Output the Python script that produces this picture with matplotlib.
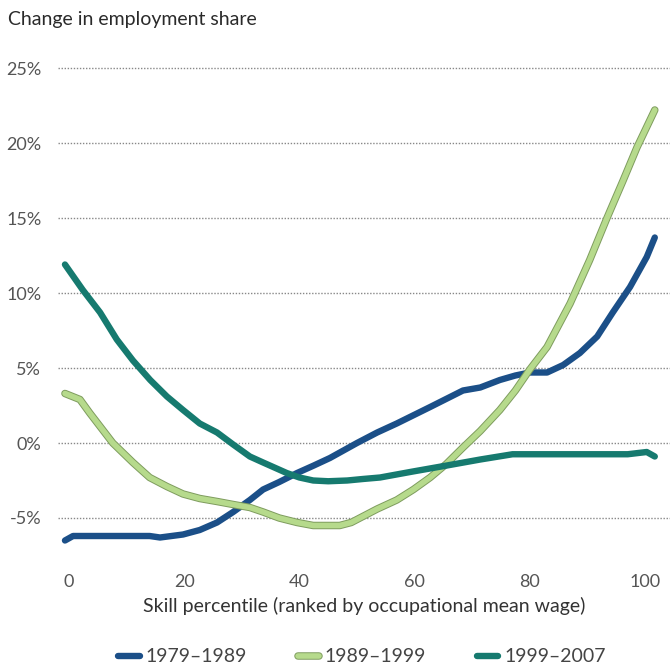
import matplotlib
matplotlib.use("Agg")
import matplotlib.pyplot as plt
import matplotlib.patheffects as pe

plt.rcParams['font.family'] = ['Lato', 'DejaVu Sans']

series_labels = ["1979\u20131989", "1989\u20131999", "1999\u20132007"]

blue_x = [-0.7, 0.7, 5, 10, 14, 15.8, 19.8, 22.7, 25.7, 28.5, 31.4, 33.7, 36.5, 39.6, 42.5, 45.3, 50, 53.5, 56.9, 62.7, 68.4, 71.4, 74.8, 77.5, 80, 83, 85.8, 88.7, 91.7, 94.4, 97.4, 100.3, 101.7]
blue_y = [-6.5, -6.2, -6.2, -6.2, -6.2, -6.3, -6.1, -5.8, -5.3, -4.6, -3.8, -3.1, -2.6, -2.0, -1.5, -1.0, 0.0, 0.7, 1.3, 2.4, 3.5, 3.7, 4.2, 4.5, 4.7, 4.7, 5.2, 6.0, 7.1, 8.7, 10.4, 12.4, 13.7]

green_x = [-0.7, 1.9, 3.6, 5.4, 7.6, 11.1, 14, 17, 19.8, 22.7, 25.7, 28.5, 31.4, 33.7, 36.5, 39.6, 42.4, 45, 47, 49, 51, 53.5, 56.9, 59.8, 62.7, 65.5, 68.4, 71.4, 74.8, 77.5, 80, 83, 87, 90.4, 93.4, 96.2, 98.6, 101.7]
green_y = [3.3, 2.9, 2.0, 1.1, 0.0, -1.3, -2.3, -2.9, -3.4, -3.7, -3.9, -4.1, -4.3, -4.6, -5.0, -5.3, -5.5, -5.5, -5.5, -5.3, -4.9, -4.4, -3.8, -3.1, -2.3, -1.4, -0.3, 0.8, 2.2, 3.5, 4.9, 6.4, 9.3, 12.2, 15.0, 17.5, 19.7, 22.2]

teal_x = [-0.7, 2.4, 5.4, 8.3, 11.1, 14.1, 17, 19.8, 22.7, 25.7, 28.5, 31.4, 33.7, 37.8, 40, 42.4, 45, 48.3, 51, 54, 59.7, 65.6, 71.4, 77, 85, 92, 97, 100.3, 101.7]
teal_y = [11.9, 10.2, 8.7, 6.9, 5.5, 4.2, 3.1, 2.2, 1.3, 0.7, -0.1, -0.9, -1.3, -2.0, -2.3, -2.5, -2.55, -2.5, -2.4, -2.3, -1.9, -1.5, -1.1, -0.75, -0.75, -0.75, -0.75, -0.6, -0.9]

x_ticks = [0, 20, 40, 60, 80, 100]
y_ticks = [-5, 0, 5, 10, 15, 20, 25]
y_ticklabels = ["-5%", "0%", "5%", "10%", "15%", "20%", "25%"]

W, H = 670, 666
fig = plt.figure(figsize=(W / 100, H / 100), dpi=100)
left, right, top, bottom = 58, 670, 60, 545
ax = fig.add_axes([left / W, 1 - bottom / H, (right - left) / W, (bottom - top) / H])

x0px, pxu = 69, 5.76
ax.set_xlim((left - x0px) / pxu, (right - x0px) / pxu)
ax.set_ylim(-(bottom - 443) / 15, (443 - top) / 15)

blue_c = "#1b4f88"
green_c = "#b6da8c"
green_edge = "#7e9c5e"
teal_c = "#167a6f"

ax.plot(blue_x, blue_y, color=blue_c, lw=4.6, solid_capstyle='round', solid_joinstyle='round', label=series_labels[0], zorder=3)
ax.plot(green_x, green_y, color=green_c, lw=4.0, solid_capstyle='round', solid_joinstyle='round', label=series_labels[1], zorder=3,
        path_effects=[pe.Stroke(linewidth=5.4, foreground=green_edge), pe.Normal()])
ax.plot(teal_x, teal_y, color=teal_c, lw=4.6, solid_capstyle='round', solid_joinstyle='round', label=series_labels[2], zorder=3)

ax.set_xticks(x_ticks)
ax.set_yticks(y_ticks)
ax.set_yticklabels(y_ticklabels)
ax.tick_params(axis='both', length=0, labelsize=13, colors="#555555")
ax.tick_params(axis='y', pad=12)
ax.tick_params(axis='x', pad=21)
for s in ax.spines.values():
    s.set_visible(False)
ax.yaxis.grid(True, linestyle=(0, (1, 1.2)), color="#888888", lw=1.0)
ax.xaxis.grid(False)
ax.set_axisbelow(True)

ax.set_xlabel("Skill percentile (ranked by occupational mean wage)", fontsize=14, color="#333333", labelpad=5)
fig.text(8 / W, 1 - 20 / H, "Change in employment share", fontsize=14, color="#2a2a2a", va='center', ha='left')

handles, labels = ax.get_legend_handles_labels()
leg = fig.legend(handles, labels, loc='center', bbox_to_anchor=(362 / W, 1 - 657 / H), ncol=3, frameon=False,
                 fontsize=14, handlelength=1.1, handletextpad=0.3, columnspacing=2.6)
for t in leg.get_texts():
    t.set_color("#444444")

fig.savefig("out.png", dpi=100)
